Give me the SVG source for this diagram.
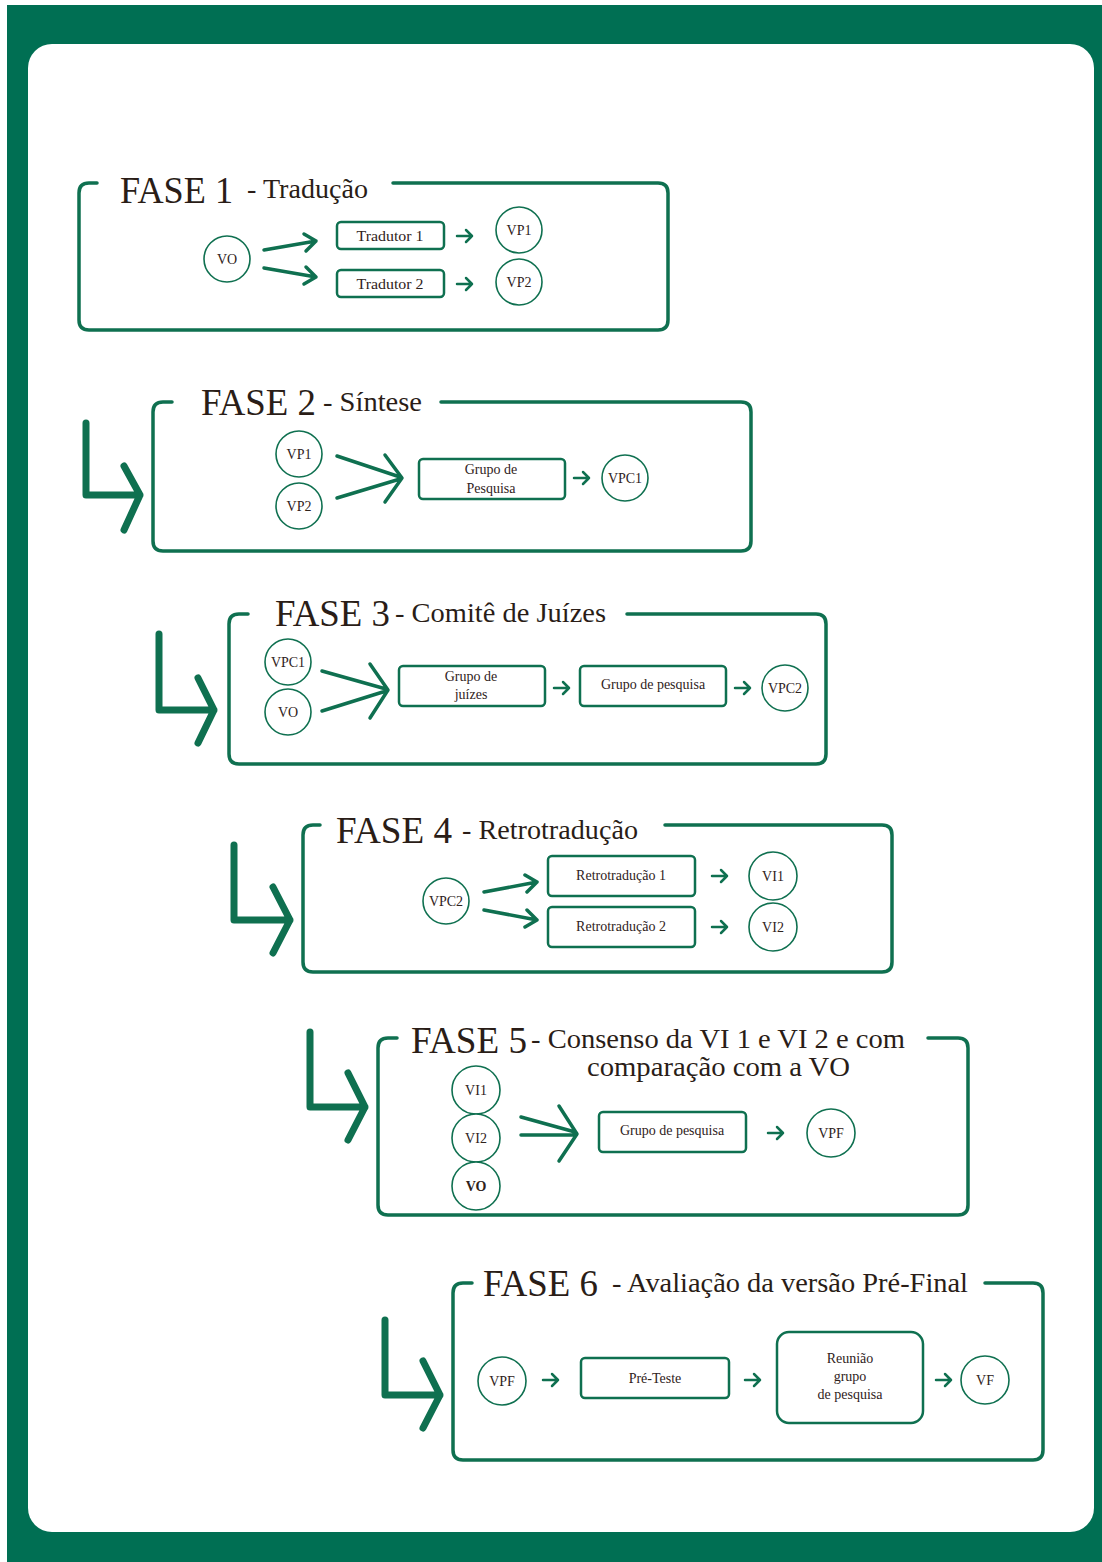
<svg xmlns="http://www.w3.org/2000/svg" width="1102" height="1562" viewBox="0 0 1102 1562">
<style>
.frame{fill:none;stroke:#0f7050;stroke-width:3.5;stroke-linecap:round;stroke-linejoin:round}
.box{fill:#fff;stroke:#0f7050;stroke-width:2.5}
.circ{fill:#fff;stroke:#0f7050;stroke-width:1.6}
.big{font-family:"Liberation Serif",serif;font-size:38px;fill:#2a1d17}
.sub{font-family:"Liberation Serif",serif;font-size:27px;fill:#2a1d17}
.t{font-family:"Liberation Serif",serif;font-size:14px;fill:#2f221b;text-anchor:middle}
.c{font-family:"Liberation Serif",serif;font-size:14px;fill:#2f221b;text-anchor:middle}
.sa{fill:none;stroke:#0f7050;stroke-width:2.5;stroke-linecap:round;stroke-linejoin:round}
.ma{fill:none;stroke:#0f7050;stroke-width:3.5;stroke-linecap:round;stroke-linejoin:round}
.la{fill:none;stroke:#0f7050;stroke-width:7;stroke-linecap:round;stroke-linejoin:round}
</style>
<rect x="0" y="0" width="1102" height="1562" fill="#fff"/>
<rect x="7" y="5" width="1095" height="1557" fill="#006f53"/>
<rect x="28" y="44" width="1066" height="1488" rx="24" fill="#fff"/>

<g id="fase1">
<path class="frame" d="M97 183 H89 Q79 183 79 193 V320 Q79 330 89 330 H658 Q668 330 668 320 V193 Q668 183 658 183 H393"/>
<text class="big" x="120" y="203" textLength="113" lengthAdjust="spacingAndGlyphs">FASE 1</text>
<text class="sub" x="247" y="198" textLength="121" lengthAdjust="spacingAndGlyphs">- Tradução</text>
</g>
<g id="f1-vo"><circle class="circ" cx="227" cy="259" r="23"/><text class="c" x="227" y="264">VO</text></g>
<g id="f1-t1"><rect class="box" x="337" y="222" width="107" height="27" rx="4"/><text class="t" x="390" y="241" textLength="67" lengthAdjust="spacingAndGlyphs">Tradutor 1</text></g>
<g id="f1-t2"><rect class="box" x="337" y="270" width="107" height="27" rx="4"/><text class="t" x="390" y="289" textLength="67" lengthAdjust="spacingAndGlyphs">Tradutor 2</text></g>
<g id="f1-vp1"><circle class="circ" cx="519" cy="230" r="23"/><text class="c" x="519" y="235">VP1</text></g>
<g id="f1-vp2"><circle class="circ" cx="519" cy="282" r="23"/><text class="c" x="519" y="287">VP2</text></g>

<g id="fase2">
<path class="frame" d="M172 402 H163 Q153 402 153 412 V541 Q153 551 163 551 H741 Q751 551 751 541 V412 Q751 402 741 402 H441"/>
<text class="big" x="201" y="415" textLength="115" lengthAdjust="spacingAndGlyphs">FASE 2</text>
<text class="sub" x="323" y="411" textLength="99" lengthAdjust="spacingAndGlyphs">- Síntese</text>
</g>
<g id="f2-vp1"><circle class="circ" cx="299" cy="454" r="23"/><text class="c" x="299" y="459">VP1</text></g>
<g id="f2-vp2"><circle class="circ" cx="299" cy="506" r="23"/><text class="c" x="299" y="511">VP2</text></g>
<g id="f2-grupo"><rect class="box" x="419" y="459" width="146" height="40" rx="4"/><text class="t" x="491" y="474">Grupo de</text><text class="t" x="491" y="493">Pesquisa</text></g>
<g id="f2-vpc1"><circle class="circ" cx="625" cy="478" r="23"/><text class="c" x="625" y="483">VPC1</text></g>

<g id="fase3">
<path class="frame" d="M248 614 H239 Q229 614 229 624 V754 Q229 764 239 764 H816 Q826 764 826 754 V624 Q826 614 816 614 H627"/>
<text class="big" x="275" y="626" textLength="115" lengthAdjust="spacingAndGlyphs">FASE 3</text>
<text class="sub" x="395" y="622" textLength="211" lengthAdjust="spacingAndGlyphs">- Comitê de Juízes</text>
</g>
<g id="f3-vpc1"><circle class="circ" cx="288" cy="662" r="23"/><text class="c" x="288" y="667">VPC1</text></g>
<g id="f3-vo"><circle class="circ" cx="288" cy="712" r="23"/><text class="c" x="288" y="717">VO</text></g>
<g id="f3-juizes"><rect class="box" x="399" y="666" width="146" height="40" rx="4"/><text class="t" x="471" y="681">Grupo de</text><text class="t" x="471" y="699">juízes</text></g>
<g id="f3-pesquisa"><rect class="box" x="580" y="666" width="146" height="40" rx="4"/><text class="t" x="653" y="689">Grupo de pesquisa</text></g>
<g id="f3-vpc2"><circle class="circ" cx="785" cy="688" r="23"/><text class="c" x="785" y="693">VPC2</text></g>

<g id="fase4">
<path class="frame" d="M320 825 H313 Q303 825 303 835 V962 Q303 972 313 972 H882 Q892 972 892 962 V835 Q892 825 882 825 H665"/>
<text class="big" x="336" y="843" textLength="116" lengthAdjust="spacingAndGlyphs">FASE 4</text>
<text class="sub" x="462" y="839" textLength="176" lengthAdjust="spacingAndGlyphs">- Retrotradução</text>
</g>
<g id="f4-vpc2"><circle class="circ" cx="446" cy="901" r="23"/><text class="c" x="446" y="906">VPC2</text></g>
<g id="f4-r1"><rect class="box" x="548" y="856" width="147" height="40" rx="4"/><text class="t" x="621" y="880">Retrotradução 1</text></g>
<g id="f4-r2"><rect class="box" x="548" y="907" width="147" height="40" rx="4"/><text class="t" x="621" y="931">Retrotradução 2</text></g>
<g id="f4-vi1"><circle class="circ" cx="773" cy="876" r="24"/><text class="c" x="773" y="881">VI1</text></g>
<g id="f4-vi2"><circle class="circ" cx="773" cy="927" r="24"/><text class="c" x="773" y="932">VI2</text></g>

<g id="fase5">
<path class="frame" d="M397 1038 H388 Q378 1038 378 1048 V1205 Q378 1215 388 1215 H958 Q968 1215 968 1205 V1048 Q968 1038 958 1038 H928"/>
<text class="big" x="411" y="1053" textLength="116" lengthAdjust="spacingAndGlyphs">FASE 5</text>
<text class="sub" x="531" y="1048" textLength="374" lengthAdjust="spacingAndGlyphs" font-size="26">- Consenso da VI 1 e VI 2 e com</text>
<text class="sub" x="587" y="1076" textLength="263" lengthAdjust="spacingAndGlyphs" font-size="26">comparação com a VO</text>
</g>
<g id="f5-vi1"><circle class="circ" cx="476" cy="1090" r="24"/><text class="c" x="476" y="1095">VI1</text></g>
<g id="f5-vi2"><circle class="circ" cx="476" cy="1138" r="24"/><text class="c" x="476" y="1143">VI2</text></g>
<g id="f5-vo"><circle class="circ" cx="476" cy="1186" r="24" stroke-width="2.2"/><text class="c" x="476" y="1191" font-weight="bold">VO</text></g>
<g id="f5-pesquisa"><rect class="box" x="599" y="1112" width="147" height="40" rx="4"/><text class="t" x="672" y="1135">Grupo de pesquisa</text></g>
<g id="f5-vpf"><circle class="circ" cx="831" cy="1133" r="24"/><text class="c" x="831" y="1138">VPF</text></g>

<g id="fase6">
<path class="frame" d="M472 1283 H463 Q453 1283 453 1293 V1450 Q453 1460 463 1460 H1033 Q1043 1460 1043 1450 V1293 Q1043 1283 1033 1283 H985"/>
<text class="big" x="483" y="1296" textLength="115" lengthAdjust="spacingAndGlyphs">FASE 6</text>
<text class="sub" x="612" y="1292" textLength="356" lengthAdjust="spacingAndGlyphs">- Avaliação da versão Pré-Final</text>
</g>
<g id="f6-vpf"><circle class="circ" cx="502" cy="1381" r="24"/><text class="c" x="502" y="1386">VPF</text></g>
<g id="f6-preteste"><rect class="box" x="581" y="1358" width="148" height="40" rx="4"/><text class="t" x="655" y="1383">Pré-Teste</text></g>
<g id="f6-reuniao"><rect class="box" x="777" y="1332" width="146" height="91" rx="12"/><text class="t" x="850" y="1363">Reunião</text><text class="t" x="850" y="1381">grupo</text><text class="t" x="850" y="1399">de pesquisa</text></g>
<g id="f6-vf"><circle class="circ" cx="985" cy="1380" r="24"/><text class="c" x="985" y="1385">VF</text></g>

<g id="connectors">
<path class="ma" d="M264 250 L316 241 M304 234 L316 241 L306 251"/>
<path class="ma" d="M264 268 L316 277 M306 267 L316 277 L304 284"/>
<path class="sa" d="M457 236 H472 M466 230 L472 236 L466 242"/>
<path class="sa" d="M457 284 H472 M466 278 L472 284 L466 290"/>

<path class="la" d="M86 423 V495 H140 M124 466 L140 495 L124 530"/>
<path class="ma" d="M337 456 L400 477 M337 498 L400 479 M385 455 L402 478 L385 502"/>
<path class="sa" d="M574 478 H589 M583 472 L589 478 L583 484"/>

<path class="la" d="M159 634 V710 H214 M198 678 L214 710 L198 743"/>
<path class="ma" d="M322 671 L386 689 M322 711 L386 691 M370 664 L388 690 L370 718"/>
<path class="sa" d="M554 688 H569 M563 682 L569 688 L563 694"/>
<path class="sa" d="M735 688 H750 M744 682 L750 688 L744 694"/>

<path class="la" d="M234 845 V920 H290 M273 887 L290 920 L273 953"/>
<path class="ma" d="M484 892 L537 882 M525 875 L537 882 L527 892"/>
<path class="ma" d="M484 910 L537 920 M527 910 L537 920 L525 927"/>
<path class="sa" d="M712 876 H727 M721 870 L727 876 L721 882"/>
<path class="sa" d="M712 927 H727 M721 921 L727 927 L721 933"/>

<path class="la" d="M310 1032 V1107 H365 M348 1073 L365 1107 L348 1140"/>
<path class="ma" d="M521 1117 L575 1132 M521 1135 H576 M559 1106 L577 1134 L559 1161" stroke-width="5"/>
<path class="sa" d="M768 1133 H783 M777 1127 L783 1133 L777 1139"/>

<path class="la" d="M385 1320 V1395 H440 M423 1361 L440 1395 L423 1428"/>
<path class="sa" d="M543 1380 H558 M552 1374 L558 1380 L552 1386"/>
<path class="sa" d="M745 1380 H760 M754 1374 L760 1380 L754 1386"/>
<path class="sa" d="M936 1380 H951 M945 1374 L951 1380 L945 1386"/>
</g>
</svg>
